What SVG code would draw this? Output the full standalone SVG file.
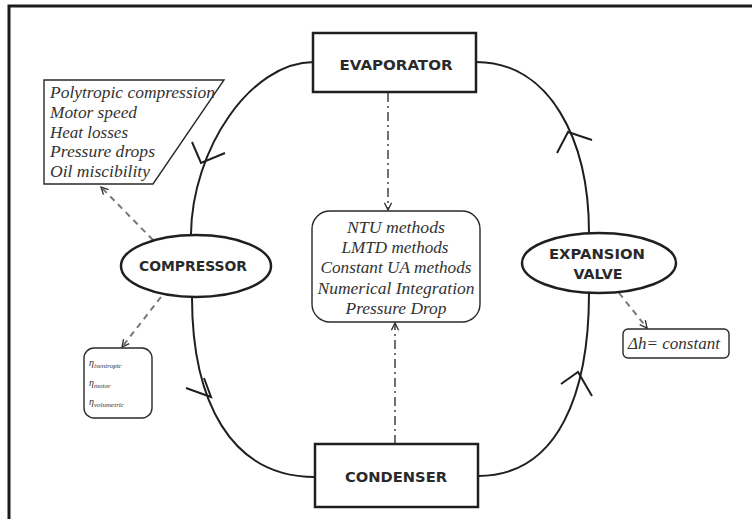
<svg xmlns="http://www.w3.org/2000/svg" width="752" height="519" viewBox="0 0 752 519">
<defs>
<style>
.frame{fill:none;stroke:#1e1a1a;stroke-width:3}
.box{fill:#fff;stroke:#1f1f1f;stroke-width:2.5}
.oval{fill:#fff;stroke:#1f1f1f;stroke-width:2.5}
.thin{fill:#fff;stroke:#2a2a2a;stroke-width:1.4}
.flow{fill:none;stroke:#1f1f1f;stroke-width:2}
.chev{fill:none;stroke:#1f1f1f;stroke-width:2;stroke-linejoin:miter}
.dd{fill:none;stroke:#333;stroke-width:1.4;stroke-dasharray:9 4 2 4}
.dg{fill:none;stroke:#777;stroke-width:2;stroke-dasharray:6 5}
.lab{font-family:"DejaVu Sans","Liberation Sans",sans-serif;font-weight:bold;font-size:14px;fill:#2a2a2a;text-anchor:middle}
.it{font-family:"Liberation Serif","Times New Roman",serif;font-style:italic;fill:#333}
.mid{font-size:17px;text-anchor:middle}
.par{font-size:16px}
.tiny{font-size:10px}
</style>
<marker id="ah" viewBox="0 0 10 10" refX="9" refY="5" markerWidth="9" markerHeight="9" markerUnits="userSpaceOnUse" orient="auto">
<path d="M1,1 L9,5 L1,9" fill="none" stroke="#333" stroke-width="1.5"/>
</marker>
</defs>
<rect width="752" height="519" fill="#fff"/>
<path class="frame" d="M9,519 V6 H752"/>

<g id="connectors">
<path class="flow" d="M314,62 C250,62 192,150 191,234"/>
<path class="chev" d="M192,142 L201,163 L225,153"/>
<path class="flow" d="M192,297 C192,400 230,477 315,477"/>
<path class="chev" d="M186,388 L211,397 L204,378"/>
<path class="flow" d="M478,476 C560,476 589,390 589,293"/>
<path class="chev" d="M561,384 L578,372 L592,396"/>
<path class="flow" d="M589,233 C589,140 550,62 476,62"/>
<path class="chev" d="M557,153 L568,132 L592,140"/>
<path class="dd" d="M388,93 V210" marker-end="url(#ah)"/>
<path class="dd" d="M395,444 V323" marker-end="url(#ah)"/>
<path class="dg" d="M153,240 L101,187" marker-end="url(#ah)"/>
<path class="dg" d="M161,297 L122,347" marker-end="url(#ah)"/>
<path class="dg" d="M619,293 L647,328" marker-end="url(#ah)"/>
</g>

<g id="evaporator">
<rect class="box" x="313" y="33" width="163" height="59"/>
<text class="lab" x="396" y="70" textLength="113" lengthAdjust="spacingAndGlyphs">EVAPORATOR</text>
</g>
<g id="condenser">
<rect class="box" x="315" y="444" width="163" height="63"/>
<text class="lab" x="396" y="482" textLength="102" lengthAdjust="spacingAndGlyphs">CONDENSER</text>
</g>
<g id="compressor">
<ellipse class="oval" cx="196" cy="266" rx="75" ry="31"/>
<text class="lab" x="193" y="271" textLength="108" lengthAdjust="spacingAndGlyphs">COMPRESSOR</text>
</g>
<g id="expansion-valve">
<ellipse class="oval" cx="599" cy="263" rx="77" ry="30"/>
<text class="lab" x="597" y="259" textLength="96" lengthAdjust="spacingAndGlyphs">EXPANSION</text>
<text class="lab" x="598" y="279" textLength="49" lengthAdjust="spacingAndGlyphs">VALVE</text>
</g>
<g id="methods">
<rect class="thin" x="312" y="211" width="168" height="111" rx="18"/>
<text class="it mid" x="396" y="233" textLength="98" lengthAdjust="spacingAndGlyphs">NTU methods</text>
<text class="it mid" x="395" y="253" textLength="107" lengthAdjust="spacingAndGlyphs">LMTD methods</text>
<text class="it mid" x="396" y="273" textLength="151" lengthAdjust="spacingAndGlyphs">Constant UA methods</text>
<text class="it mid" x="396" y="294" textLength="157" lengthAdjust="spacingAndGlyphs">Numerical Integration</text>
<text class="it mid" x="396" y="314" textLength="101" lengthAdjust="spacingAndGlyphs">Pressure Drop</text>
</g>
<g id="compressor-models">
<path class="thin" d="M44,80 H224 L153,184 H44 Z"/>
<text class="it par" x="50" y="98" textLength="165" lengthAdjust="spacingAndGlyphs">Polytropic compression</text>
<text class="it par" x="50" y="118" textLength="87" lengthAdjust="spacingAndGlyphs">Motor speed</text>
<text class="it par" x="50" y="138" textLength="78" lengthAdjust="spacingAndGlyphs">Heat losses</text>
<text class="it par" x="50" y="157" textLength="105" lengthAdjust="spacingAndGlyphs">Pressure drops</text>
<text class="it par" x="50" y="177" textLength="100" lengthAdjust="spacingAndGlyphs">Oil miscibility</text>
</g>
<g id="efficiencies">
<rect class="thin" x="84" y="348" width="68" height="70" rx="10"/>
<text class="it tiny" x="89" y="366">η<tspan font-size="7" dy="2">isentropic</tspan></text>
<text class="it tiny" x="89" y="386">η<tspan font-size="7" dy="2">motor</tspan></text>
<text class="it tiny" x="89" y="405">η<tspan font-size="7" dy="2">volumetric</tspan></text>
</g>
<g id="enthalpy">
<rect class="thin" x="623" y="329" width="106" height="29" rx="5"/>
<text class="it" font-size="16" x="628" y="349" textLength="92" lengthAdjust="spacingAndGlyphs">Δh= constant</text>
</g>
</svg>
